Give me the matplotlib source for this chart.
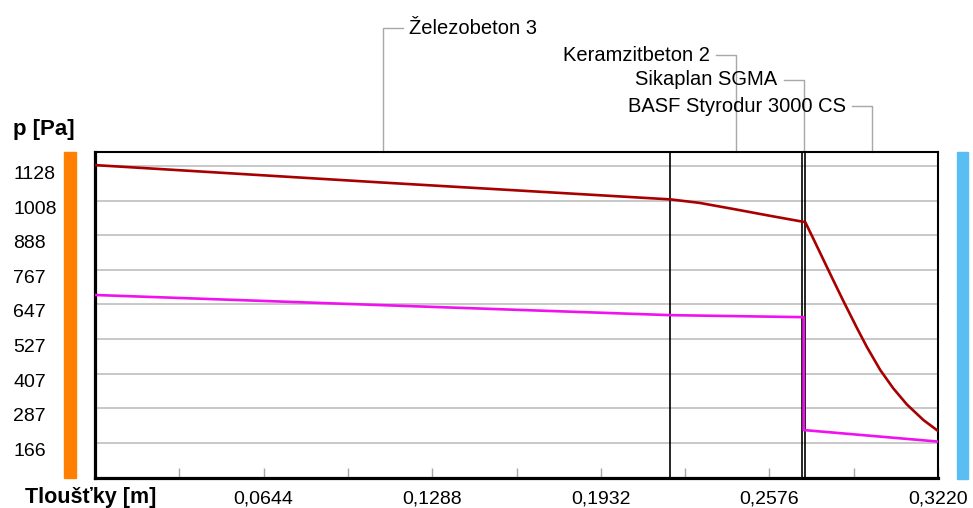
import matplotlib
matplotlib.use("Agg")
import matplotlib.pyplot as plt
import matplotlib.transforms as mtransforms
from matplotlib.patches import Rectangle

plt.rcParams['font.family'] = ['Liberation Sans', 'DejaVu Sans']

# layers of the wall, boundaries in metres
layer_names = ["Železobeton 3", "Keramzitbeton 2", "Sikaplan SGMA", "BASF Styrodur 3000 CS"]
layer_bounds = [0.0, 0.2197, 0.2700, 0.2713, 0.3220]

# saturated vapour pressure (dark red)
psat_x = [0.0, 0.1088, 0.2197, 0.2308, 0.2448, 0.2578, 0.2700, 0.2713, 0.2744,
          0.2782, 0.2820, 0.2858, 0.2910, 0.2948, 0.2999, 0.3049, 0.3101, 0.3164, 0.3220]
psat_y = [1131, 1071, 1012, 1000, 977, 955, 935, 933, 875,
          803, 731, 660, 566, 500, 420, 356, 300, 246, 208]

# partial vapour pressure (magenta)
p_x = [0.0, 0.1088, 0.2197, 0.2707, 0.2707, 0.3220]
p_y = [680, 645, 610, 603, 211, 171]

y_ticks = [166, 287, 407, 527, 647, 767, 888, 1008, 1128]
x_ticks = [0.0644, 0.1288, 0.1932, 0.2576, 0.3220]
x_labels = ["0,0644", "0,1288", "0,1932", "0,2576", "0,3220"]
x_minor = [0.0322, 0.0966, 0.1610, 0.2254, 0.2898]

W, H = 973, 508
fig = plt.figure(figsize=(W / 100, H / 100), dpi=100)
fig.patch.set_facecolor("white")
ax = fig.add_axes([95 / W, 30 / H, 843 / W, 326 / H])

ax.set_xlim(0, 0.322)
ax.set_ylim(44.5, 1176.5)

ax.set_yticks(y_ticks)
ax.set_yticklabels([str(v) for v in y_ticks])
ax.yaxis.grid(True, color="#c4c4c4", lw=1.3)
ax.set_axisbelow(True)
ax.tick_params(axis="y", length=0, pad=59, labelsize=14)
plt.setp(ax.get_yticklabels(), ha="left", va="top")

ax.set_xticks(x_ticks)
ax.set_xticklabels(x_labels)
ax.set_xticks(x_minor, minor=True)
ax.tick_params(axis="x", which="both", direction="in", length=7, width=1,
               color="#a8a8a8", labelsize=14, pad=9)

for side in ["left", "bottom"]:
    ax.spines[side].set_linewidth(2.3)
for side in ["top", "right"]:
    ax.spines[side].set_linewidth(1.5)

# layer boundaries
for b in layer_bounds[1:-1]:
    ax.axvline(b, color="black", lw=1.2)

ax.plot(psat_x, psat_y, color="#a80000", lw=1.9, zorder=3)
ax.plot(p_x, p_y, color="#f010f0", lw=1.9, zorder=3)

# layer names with leader lines
trans = mtransforms.blended_transform_factory(ax.transData, ax.transAxes)
label_y = [1.380, 1.2975, 1.221, 1.141]
sides = [1, -1, -1, -1]
px = 0.322 / 843
for name, lo, hi, ly, s in zip(layer_names, layer_bounds[:-1], layer_bounds[1:], label_y, sides):
    mid = (lo + hi) / 2
    end = mid + s * 20 * px
    ax.plot([mid, mid, end], [1.0, ly, ly], color="#a8a8a8", lw=1,
            transform=trans, clip_on=False)
    ax.text(end + s * 6 * px, ly, name, transform=trans, fontsize=14.5,
            ha="left" if s > 0 else "right", va="center")

fig.text(13 / W, 1 - 129 / H, "p [Pa]", fontsize=16, fontweight="bold",
         ha="left", va="center")
fig.text(25 / W, 1 - 497 / H, "Tloušťky [m]", fontsize=15.5, fontweight="bold",
         ha="left", va="center")

# coloured side bars
fig.patches.append(Rectangle((64 / W, 30 / H), 12 / W, 326 / H,
                             transform=fig.transFigure, color="#ff8000"))
fig.patches.append(Rectangle((957 / W, 29 / H), 11 / W, 327 / H,
                             transform=fig.transFigure, color="#5bbef3"))

fig.savefig("out.png", dpi=100)
